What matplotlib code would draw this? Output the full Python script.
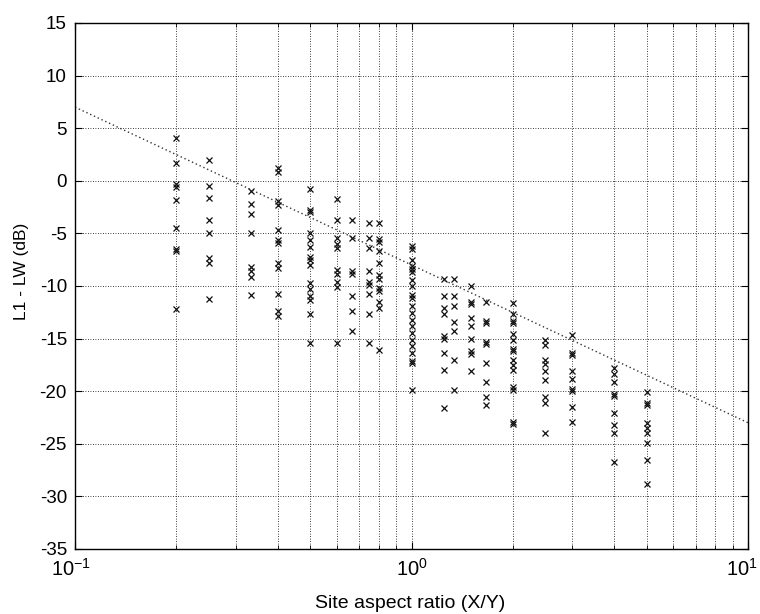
import numpy as np
import matplotlib
matplotlib.use("Agg")
import matplotlib.pyplot as plt
import matplotlib.transforms as mtransforms
from matplotlib.ticker import LogLocator, NullFormatter

plt.rcParams['font.family'] = ['Liberation Sans', 'DejaVu Sans']
plt.rcParams['mathtext.fontset'] = 'custom'
plt.rcParams['mathtext.rm'] = 'Liberation Sans'
plt.rcParams['mathtext.it'] = 'Liberation Sans'
plt.rcParams['axes.unicode_minus'] = False

# ---- data ----
y_r020 = [4.1, 1.7, -0.3, -0.6, -1.8, -4.5, -6.5, -6.7, -12.2]
y_r025 = [2.0, -0.5, -1.6, -3.7, -5.0, -7.3, -7.8, -11.2]
y_r033 = [-1.0, -2.2, -3.2, -5.0, -8.2, -8.6, -9.1, -10.9]
y_r040 = [1.2, 0.8, -1.9, -2.3, -4.7, -5.6, -5.9, -7.8, -8.3, -10.8, -12.4, -12.9]
y_r050 = [-0.8, -2.8, -3.0, -5.0, -5.6, -6.3, -7.2, -7.5, -8.0, -9.7, -10.3, -11.0, -11.3, -12.7, -15.4]
y_r060 = [-1.7, -3.7, -5.4, -6.0, -6.4, -8.5, -8.9, -9.6, -10.1, -15.4]
y_r067 = [-3.7, -5.4, -8.6, -8.9, -11.0, -12.4, -14.3]
y_r075 = [-4.0, -5.4, -6.4, -8.6, -9.6, -9.9, -10.8, -12.7, -15.4]
y_r080 = [-4.0, -5.5, -5.8, -6.7, -7.8, -9.0, -9.3, -10.2, -10.5, -11.5, -12.1, -16.1]
y_r100 = [-6.2, -6.5, -7.5, -8.1, -8.4, -8.7, -9.4, -10.0, -10.9, -11.1, -11.9, -12.6,
          -13.2, -13.8, -14.5, -15.1, -15.7, -16.4, -17.1, -17.3, -19.9]
y_r125 = [-9.3, -11.0, -12.1, -12.7, -14.8, -15.0, -16.4, -18.0, -21.6]
y_r133 = [-9.3, -11.0, -11.9, -13.4, -14.3, -17.0, -19.9]
y_r150 = [-10.0, -11.5, -11.7, -13.0, -13.8, -15.0, -16.2, -16.5, -18.1]
y_r167 = [-11.5, -13.3, -13.5, -15.3, -15.5, -17.3, -19.1, -20.6, -21.3]
y_r200 = [-11.6, -12.7, -13.3, -13.5, -14.6, -15.1, -16.0, -16.2, -17.0, -17.5, -18.0,
          -19.6, -19.9, -22.9, -23.1]
y_r250 = [-15.1, -15.6, -17.0, -17.4, -18.1, -18.9, -20.6, -21.1, -24.0]
y_r300 = [-14.7, -16.4, -16.6, -18.1, -18.8, -19.8, -20.0, -21.5, -22.9]
y_r400 = [-17.8, -18.4, -19.1, -20.3, -20.5, -22.1, -23.2, -24.0, -26.7]
y_r500 = [-20.1, -21.1, -21.3, -23.0, -23.5, -24.0, -24.9, -26.5, -28.8]

ratios = [0.2, 0.25, 1/3, 0.4, 0.5, 0.6, 2/3, 0.75, 0.8, 1.0,
          1.25, 4/3, 1.5, 5/3, 2.0, 2.5, 3.0, 4.0, 5.0]
columns = [y_r020, y_r025, y_r033, y_r040, y_r050, y_r060, y_r067, y_r075, y_r080, y_r100,
           y_r125, y_r133, y_r150, y_r167, y_r200, y_r250, y_r300, y_r400, y_r500]

# fitted trend line: L1 - LW = a + b*log10(X/Y)
fit_x = [0.1, 10.0]
fit_a = -8.0
fit_b = -15.0

xticks = [0.1, 1, 10]
xticklabels = [r'$10^{-1}$', r'$10^{0}$', r'$10^{1}$']
yticks = [-35, -30, -25, -20, -15, -10, -5, 0, 5, 10, 15]

# ---- plot ----
fig = plt.figure(figsize=(7.6, 6.14), dpi=100)
ax = fig.add_axes([0.0987, 0.1059, 0.8855, 0.8567])

xs = np.concatenate([np.full(len(c), r) for r, c in zip(ratios, columns)])
ys = np.concatenate([np.asarray(c, float) for c in columns])
ax.plot(xs, ys, linestyle='none', marker='x', color='#111111', markersize=4.5,
        markeredgewidth=0.9)

fx = np.array(fit_x)
ax.plot(fx, fit_a + fit_b * np.log10(fx), color='#333333', linestyle=(0, (1, 2)),
        linewidth=1.0)

ax.set_xscale('log')
ax.set_xlim(0.1, 10)
ax.set_ylim(-35, 15)
ax.set_xticks(xticks)
ax.set_xticklabels(xticklabels)
ax.xaxis.set_minor_locator(LogLocator(base=10, subs=np.arange(2, 10)))
ax.xaxis.set_minor_formatter(NullFormatter())
ax.set_yticks(yticks)

ax.grid(True, which='major', color='black', linestyle=(0, (1, 2)), linewidth=0.6)
ax.grid(True, which='minor', axis='x', color='black', linestyle=(0, (1, 2)), linewidth=0.6)

ax.tick_params(which='both', direction='in', top=True, right=True, colors='black')
ax.tick_params(which='major', length=5)
ax.tick_params(which='minor', length=3)
ax.tick_params(axis='y', labelsize=13.5, pad=5.8)
ax.tick_params(axis='x', labelsize=14.5, pad=6.5)
for s in ax.spines.values():
    s.set_linewidth(1.0)

# keep the last x tick label inside the figure (as in the reference)
lbls = ax.get_xticklabels()
lbls[-1].set_transform(lbls[-1].get_transform() +
                       mtransforms.ScaledTranslation(-6 / 100, 0, fig.dpi_scale_trans))
lbls[0].set_transform(lbls[0].get_transform() +
                      mtransforms.ScaledTranslation(-4 / 100, 0, fig.dpi_scale_trans))

ax.set_xlabel('Site aspect ratio (X/Y)', fontsize=14)
ax.xaxis.label.set_va('center')
ax.xaxis.set_label_coords(0.4985, -0.104)
ax.set_ylabel('L1 - LW (dB)', fontsize=12.5)
ax.yaxis.label.set_va('center')
ax.yaxis.set_label_coords(-0.0802, 0.527)

fig.savefig('out.png', dpi=100)
